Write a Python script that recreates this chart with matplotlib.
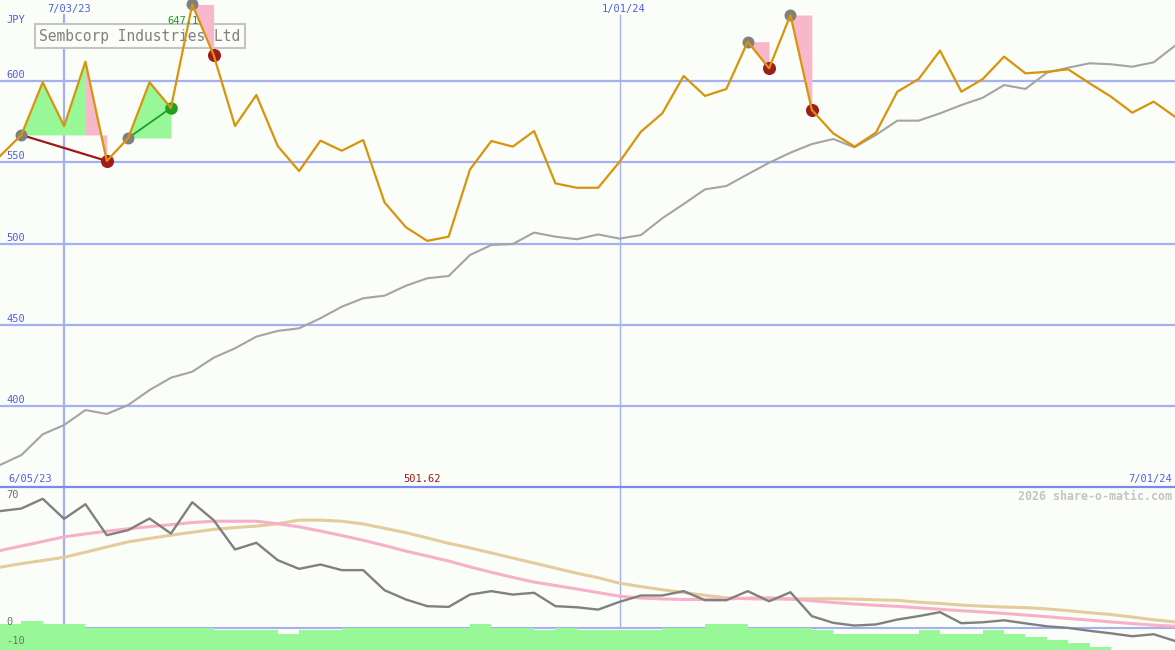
import matplotlib.pyplot as plt
from matplotlib.lines import Line2D
import numpy as np

W, H = 1175, 650

# weekly closes (JPY), 56 weeks
price = [553.8, 566.8, 599.2, 572.3, 611.9, 550.8, 564.9, 599.2, 583.4, 647.1,
         616.0, 572.3, 591.4, 560.0, 544.6, 563.3, 557.1, 563.7, 525.3, 510.0,
         501.62, 504.2, 545.6, 563.1, 559.6, 569.2, 537.0, 534.3, 534.3, 550.3,
         568.8, 580.1, 603.1, 590.8, 595.1, 624.2, 607.8, 640.6, 582.2, 567.8,
         559.6, 568.2, 593.4, 601.2, 618.7, 593.4, 601.2, 615.0, 604.7, 605.7,
         607.2, 598.6, 590.4, 580.5, 587.3, 578.0]

avg = [363.7, 369.8, 382.6, 388.3, 397.5, 395.1, 400.6, 409.8, 417.4, 421.1,
       429.7, 435.5, 442.7, 446.2, 447.8, 454.0, 461.1, 466.3, 467.9, 474.0,
       478.6, 480.0, 492.9, 499.1, 499.7, 506.7, 504.2, 502.6, 505.6, 503.0,
       505.2, 515.5, 524.3, 533.3, 535.4, 542.6, 549.7, 555.9, 561.2, 564.3,
       559.2, 566.8, 575.6, 575.6, 580.1, 585.2, 589.7, 597.5, 595.1, 605.1,
       608.2, 610.9, 610.3, 608.8, 611.5, 621.7]

# lower panel
osc = [64.3, 65.7, 71.1, 60.0, 68.1, 51.0, 53.8, 60.2, 51.9, 69.2,
       59.3, 43.1, 46.8, 37.2, 32.4, 34.8, 31.7, 31.7, 20.6, 15.5,
       11.8, 11.4, 18.2, 20.1, 18.2, 19.2, 11.8, 11.2, 9.9, 14.2,
       17.7, 17.7, 20.1, 15.1, 15.1, 20.1, 14.5, 19.5, 6.3, 2.6,
       1.1, 1.7, 4.4, 6.3, 8.5, 2.4, 2.9, 4.0, 2.3, 0.7,
       -0.2, -1.8, -3.2, -4.8, -3.7, -7.4]

osc_fast = [42.5, 45.0, 47.5, 50.1, 51.7, 53.2, 54.5, 55.7, 56.8, 58.0,
            58.7, 58.7, 58.7, 57.3, 55.6, 53.3, 50.8, 48.2, 45.3, 42.2,
            39.5, 36.7, 33.5, 30.5, 27.7, 25.1, 23.2, 21.3, 19.3, 17.3,
            16.3, 15.8, 15.5, 15.5, 15.8, 16.2, 16.4, 15.7, 14.8, 13.8,
            13.0, 12.3, 11.7, 10.9, 10.1, 9.3, 8.6, 7.8, 6.9, 6.0,
            5.0, 4.1, 3.1, 2.2, 1.3, 0.7]

osc_slow = [33.3, 35.3, 37.0, 38.8, 41.6, 44.5, 47.3, 49.2, 51.0, 52.6,
            54.2, 55.2, 56.0, 57.3, 59.3, 59.3, 58.7, 57.2, 54.8, 52.4,
            49.5, 46.5, 44.0, 41.2, 38.4, 35.6, 32.8, 30.0, 27.5, 24.5,
            22.6, 20.9, 19.3, 17.8, 16.4, 15.9, 15.6, 15.8, 15.9, 15.9,
            15.7, 15.3, 15.0, 14.0, 13.3, 12.4, 11.8, 11.3, 11.0, 10.3,
            9.3, 8.2, 7.2, 5.8, 4.3, 3.1]

hist = [1.7, 3.5, 1.7, 1.7, 0, 0, 0, 0, 0, 0,
        -1.6, -1.6, -1.6, -3.8, -1.6, -1.6, 0, 0, 0, 0,
        0, 0, 1.7, 0, 0, -1.6, 0, -1.6, -1.6, -1.6,
        -1.6, 0, 0, 1.7, 1.7, 0, 0, 0, -1.6, -3.8,
        -3.8, -3.8, -3.8, -1.6, -3.8, -3.8, -1.6, -3.8, -5.4, -7.1,
        -8.8, -10.5, -14, -14, -14]

# signals: (start, end, reference index)
rise_fills = [(1, 4, 1), (6, 8, 6)]
fall_fills = [(4, 5, 1), (9, 10, 9), (35, 36, 35), (37, 38, 37)]
gray_dots = [1, 6, 9, 35, 37]
red_dots = [5, 10, 36, 38]
green_dots = [8]

x = np.arange(len(price))
price = np.array(price)

bg = "#FBFDF9"
grid = "#A4B0F0"
blue_txt = "#4F5FE6"

fig = plt.figure(figsize=(W / 100, H / 100), dpi=100)
fig.patch.set_facecolor(bg)
ax = fig.add_axes([0, 163 / H, 1, 487 / H])
ax2 = fig.add_axes([0, 0, 1, 163 / H])
for a in (ax, ax2):
    a.set_facecolor(bg)
    a.set_xticks([])
    a.set_yticks([])
    for s in a.spines.values():
        s.set_visible(False)
    a.set_xlim(0, 55.0)

ax.set_ylim(350.15, 649.85)
ax2.set_ylim(-12.4, 77.6)

# grid
for v in [400, 450, 500, 550, 600]:
    ax.axhline(v, color=grid, lw=1.6, zorder=0.5)
ax.axvline(3, ymax=0.97, color=grid, lw=1.6, zorder=0.5)
ax.axvline(29, ymax=0.97, color=grid, lw=1.0, zorder=0.5)
ax2.axhline(0, color=grid, lw=1.5, zorder=0.5)
ax2.vlines([3], 0, 80, color=grid, lw=1.6, zorder=0.5)
ax2.vlines([29], 0, 80, color=grid, lw=1.0, zorder=0.5)

# title box
ax.text(140 / W, 1 - 36 / H, "Sembcorp Industries Ltd", transform=fig.transFigure,
        ha="center", va="center", fontsize=10.5, family="DejaVu Sans Mono",
        color="#808080", zorder=1,
        bbox=dict(boxstyle="square,pad=0.3", fc=bg, ec="#C4C4C4", lw=1.5))

# signal shading
for s, e, r in rise_fills:
    ax.fill_between(x[s:e + 1], price[s:e + 1], price[r], color="#98F898", lw=0, zorder=2)
for s, e, r in fall_fills:
    ax.fill_between(x[s:e + 1], price[s:e + 1], price[r], color="#F8B8CC", lw=0, zorder=2)

ax.plot([1, 5], [price[1], price[5]], color="#A01818", lw=1.6, zorder=3)
ax.plot([6, 8], [price[6], price[8]], color="#20A020", lw=1.3, zorder=3)

ax.plot(x, avg, color="#A4A4A4", lw=1.5, zorder=3)

ax.plot(x[gray_dots], price[gray_dots], "o", color="#808080", ms=8.6, mew=0, zorder=4)
ax.plot(x[red_dots], price[red_dots], "o", color="#A01C1C", ms=9.4, mew=0, zorder=4)
ax.plot(x[green_dots], price[green_dots], "o", color="#20A020", ms=9.0, mew=0, zorder=4)

ax.plot(x, price, color="#D8940A", lw=1.6, zorder=5)

# lower panel
ax2.plot(x, osc_slow, color="#E4CC9C", lw=2.2, zorder=2)
ax2.plot(x, osc_fast, color="#F8B0C8", lw=2.2, zorder=2)
ax2.plot(x, osc, color="#808080", lw=1.7, zorder=3)
lo = -12.4
hb = np.array(hist)
ax2.bar(np.arange(len(hist)), hb - lo, bottom=lo, width=1, align="edge",
        color="#98F898", lw=0, zorder=4)

fig.add_artist(Line2D([0, 1], [1 - 486.5 / H, 1 - 486.5 / H], color="#7A8AEA", lw=1.6))


def label(px, py, s, color, ha="left", size=7.5, weight="normal"):
    fig.text(px / W, 1 - py / H, s, ha=ha, va="center", color=color,
             fontsize=size, family="DejaVu Sans Mono", weight=weight)


label(6, 20, "JPY", blue_txt)
for v in [400, 450, 500, 550, 600]:
    label(6, (649.85 - v) * 1.625 - 6, str(v), blue_txt)
label(47, 9, "7/03/23", blue_txt)
label(602, 9, "1/01/24", blue_txt)
label(8, 479, "6/05/23", blue_txt)
label(1172, 479, "7/01/24", blue_txt, ha="right")
label(403, 479, "501.62", "#A01818")
label(167, 21, "647.1", "#20A020")
label(6, 495, "70", "#707070")
label(6, 622, "0", "#707070")
label(6, 641, "-10", "#707070")
label(1172, 496, "2026 share-o-matic.com", "#C4C4C4", ha="right", size=8.4, weight="bold")

fig.savefig("out.png", dpi=100, facecolor=bg)
